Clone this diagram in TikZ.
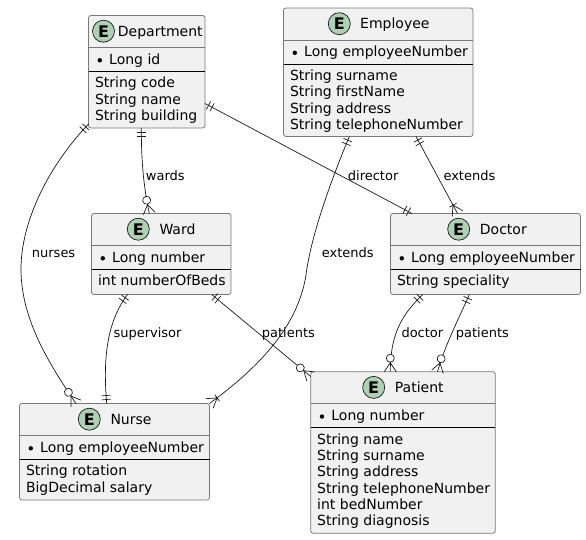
\documentclass[tikz,border=0pt]{standalone}
\usepackage{fontspec}
\setmainfont{DejaVu Sans}
\usetikzlibrary{arrows.meta, calc, positioning}
\definecolor{myboxfill}{RGB}{241, 241, 241}
\definecolor{myboxline}{RGB}{120, 120, 120}
\definecolor{myline}{RGB}{24, 24, 24}
\definecolor{mybadge}{RGB}{173, 209, 178}

\pgfdeclarearrow{
  name=ERone,
  setup code={\pgfarrowssettipend{0pt}\pgfarrowssetlineend{0pt}\pgfarrowssetbackend{-9pt}\pgfarrowssetvisualbackend{-9pt}},
  drawing code={
    \pgfpathmoveto{\pgfqpoint{-4pt}{-4.5pt}}\pgfpathlineto{\pgfqpoint{-4pt}{4.5pt}}
    \pgfpathmoveto{\pgfqpoint{-8pt}{-4.5pt}}\pgfpathlineto{\pgfqpoint{-8pt}{4.5pt}}
    \pgfusepathqstroke
  }
}
\pgfdeclarearrow{
  name=ERonemany,
  setup code={\pgfarrowssettipend{0pt}\pgfarrowssetlineend{0pt}\pgfarrowssetbackend{-10pt}\pgfarrowssetvisualbackend{-10pt}},
  drawing code={
    \pgfpathmoveto{\pgfqpoint{0pt}{-6pt}}\pgfpathlineto{\pgfqpoint{-9.5pt}{0pt}}\pgfpathlineto{\pgfqpoint{0pt}{6pt}}
    \pgfpathmoveto{\pgfqpoint{-9.5pt}{-4pt}}\pgfpathlineto{\pgfqpoint{-9.5pt}{4pt}}
    \pgfusepathqstroke
  }
}
\pgfdeclarearrow{
  name=ERzeromany,
  setup code={\pgfarrowssettipend{0pt}\pgfarrowssetlineend{0pt}\pgfarrowssetbackend{-18pt}\pgfarrowssetvisualbackend{-18pt}},
  drawing code={
    \pgfpathmoveto{\pgfqpoint{0pt}{-6pt}}\pgfpathlineto{\pgfqpoint{-9pt}{0pt}}\pgfpathlineto{\pgfqpoint{0pt}{6pt}}
    \pgfusepathqstroke
    \pgfsetfillcolor{white}
    \pgfpathcircle{\pgfqpoint{-13.5pt}{0pt}}{4pt}
    \pgfusepathqfillstroke
  }
}

\tikzset{
  entbox/.style={draw=myboxline, line width=0.8pt, fill=myboxfill, rounded corners=2.5pt, anchor=north west, inner sep=0pt, outer sep=0pt},
  badge/.style={circle, draw=myline, line width=0.7pt, fill=mybadge, minimum size=22pt, inner sep=0pt, font=\fontsize{16}{16}\selectfont\bfseries},
  rowtext/.style={anchor=base west, inner sep=0pt, font=\fontsize{14}{16}\selectfont},
  linklabel/.style={anchor=base west, inner sep=0pt, font=\fontsize{13}{16}\selectfont},
  keydot/.style={circle, fill=black, minimum size=4.4pt, inner sep=0pt},
  erline/.style={draw=myline, line width=0.7pt}
}

\begin{document}
\begin{tikzpicture}[x=1pt, y=-1pt]
\useasboundingbox (0,0) rectangle (586,539);

% Entities
\foreach \ent/\xa/\ya/\w/\h/\ex/\tx/\title/\keyname/\attrs in {
    department/88.5/15.5/116.5/112.5/103.5/117.7/Department/Long id/{String code, String name, String building},
    employee/283.5/8/189.5/128.5/339.3/360/Employee/Long employeeNumber/{String surname, String firstName, String address, String telephoneNumber},
    ward/91.5/213.5/139.5/81/138.3/159.3/Ward/Long number/{int numberOfBeds},
    doctor/390.5/213.5/190/81/458.7/479.7/Doctor/Long employeeNumber/{String speciality},
    nurse/19.5/403.5/190/96.5/89.3/110.3/Nurse/Long employeeNumber/{String rotation, BigDecimal salary},
    patient/310.7/371.7/184.6/161.6/373.7/394.7/Patient/Long number/{String name, String surname, String address, String telephoneNumber, int bedNumber, String diagnosis}} {
    \node[entbox, minimum width=\w pt, minimum height=\h pt] (\ent) at (\xa,\ya) {};
    \draw[line width=0.8pt, draw=myboxline] ([yshift=-32pt]\ent.north west) -- ([yshift=-32pt]\ent.north east);
    \draw[line width=0.8pt, draw=black] ([yshift=-56pt]\ent.north west) -- ([yshift=-56pt]\ent.north east);
    \node[badge] (\ent-badge) at (\ex,\ya+15.7) {E};
    \node[rowtext] (\ent-title) at (\tx,\ya+20.5) {\title};
    \node[keydot] (\ent-dot) at (\xa+11.3,\ya+44.8) {};
    \node[rowtext] (\ent-key) at (\xa+20.5,\ya+48.5) {\keyname};
    \foreach \attr [count=\i from 0] in \attrs {
        \node[rowtext] (\ent-attr\i) at (\xa+6.3,\ya+72.4+\i*16.35) {\attr};
    }
}

% Connectors
\draw[erline, ERone-ERzeromany] ([xshift=52.8pt]department.south west) .. controls +(0,42) and (145,192) .. ([xshift=57.8pt]ward.north west);
\draw[erline, ERone-ERzeromany] ([yshift=4pt]department.south west) .. controls (45,170) and (21,225) .. (21,269) .. controls (21,320) and (50,365) .. ([xshift=56.5pt]nurse.north west);
\draw[erline, ERone-ERone] ([yshift=-88pt]department.north east) -- ([xshift=21.5pt]doctor.north west);
\draw[erline, ERone-ERonemany] ([xshift=132.5pt]employee.south west) -- ([xshift=67pt]doctor.north west);
\draw[erline, ERone-ERonemany] ([xshift=65.8pt]employee.south west) .. controls (332,178) and (311,235) .. (306,275) .. controls (298,325) and (262,365) .. (nurse.north east);
\draw[erline, ERone-ERone] ([xshift=36pt]ward.south west) .. controls (110,318) and (102,350) .. ([xshift=87.2pt]nurse.north west);
\draw[erline, ERone-ERzeromany] ([xshift=-19.3pt]ward.south east) -- ([yshift=-4.8pt]patient.north west);
\draw[erline, ERone-ERzeromany] ([xshift=32.2pt]doctor.south west) .. controls (405,312) and (390.3,330) .. ([xshift=79.6pt]patient.north west);
\draw[erline, ERone-ERzeromany] ([xshift=78.8pt]doctor.south west) .. controls (460,316) and (445,345) .. ([xshift=126.8pt]patient.north west);

% Labels
\foreach \lab/\lx/\ly/\txt in {
    wards/145.7/180/wards, nurses/31.7/257/nurses, director/347.7/180/director,
    extdoctor/443.3/180/extends, extnurse/321.7/257/extends, supervisor/113.3/337/supervisor,
    wardpatients/261.7/337/patients, doctorlab/401.3/337/doctor, docpatients/455.7/337/patients} {
    \node[linklabel] (lab-\lab) at (\lx,\ly) {\txt};
}
\end{tikzpicture}
\end{document}
